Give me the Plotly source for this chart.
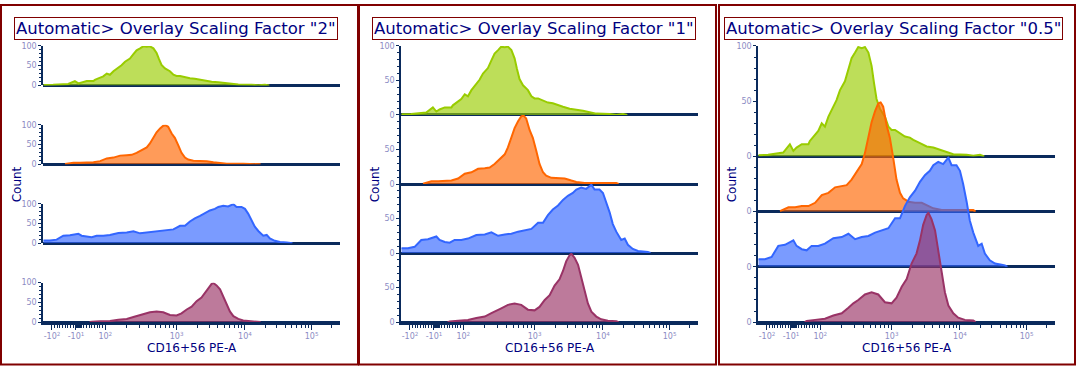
import math
import plotly.graph_objects as go

W, H = 1076, 371

# ---------------- data (display channel 0..1024, normalized count 0..100) ----------------
green_ch = [0, 20, 34, 86, 109, 121, 132, 150, 173, 178, 190, 207, 219, 230, 242, 253, 270, 282,
            299, 311, 322, 334, 345, 357, 368, 380, 391, 399, 408, 420, 437, 449, 460, 472, 489,
            506, 523, 535, 558, 581, 604, 627, 650, 673, 719, 742, 765, 780]
green_cnt = [1, 1, 1.5, 3.5, 11, 5, 8, 11, 11, 14, 18, 23, 30, 27, 36, 42, 51, 60,
             68, 79, 89, 94, 99, 98, 99, 94, 82, 67, 52, 43, 36, 27, 24, 24, 21,
             18, 17, 15, 12, 9, 8, 6, 4, 2, 1.5, 0.5, 1.5, 0]

orange_ch = [75, 104, 127, 150, 173, 196, 219, 242, 265, 288, 305, 322, 334, 357, 368, 380, 391,
             403, 414, 422, 431, 443, 454, 466, 477, 489, 500, 518, 541, 564, 587, 604, 633,
             690, 742, 750]
orange_cnt = [0.5, 4, 4, 5, 5, 8, 15, 17, 22, 23, 24, 29, 34, 43, 53, 67, 81,
              91, 98, 99, 95, 78, 67, 48, 29, 17, 12, 9, 8, 8, 5, 3, 1.4,
              1.4, 1.4, 0]

blue_ch = [0, 23, 46, 69, 92, 121, 132, 150, 167, 184, 207, 230, 259, 288, 311, 334, 357, 380,
           403, 426, 449, 472, 489, 506, 523, 541, 558, 575, 592, 604, 621, 638, 656, 667, 684,
           696, 707, 719, 730, 742, 759, 771, 782, 799, 817, 840, 851, 860]
blue_cnt = [7, 7, 9, 19, 20, 24, 19, 16, 15, 19, 19, 21, 26, 27, 30, 25, 27, 28,
            31, 33, 35, 44, 44, 55, 63, 69, 77, 83, 87, 92, 95, 93, 99, 92, 92,
            87, 75, 59, 42, 31, 19, 21, 12, 6, 3, 2, 1.4, 0]

purple_ch = [160, 167, 196, 230, 259, 288, 311, 328, 345, 368, 391, 414, 437, 460, 477, 495, 512,
             529, 546, 558, 569, 581, 587, 598, 610, 621, 633, 644, 656, 673, 690, 713, 742, 750]
purple_cnt = [0, 1, 2, 3, 6, 8, 13, 17, 20, 25, 27, 25, 18, 17, 22, 32, 39,
              53, 62, 74, 88, 97, 99, 93, 83, 65, 46, 27, 15, 8, 4, 2, 1.4, 0]

series_names = ["NK (green)", "NK (orange)", "NK (blue)", "NK (purple)"]
line_colors = ["#99CC00", "#FF6600", "#3366FF", "#993366"]
fill_colors = ["rgba(153,204,0,0.65)", "rgba(255,102,0,0.65)",
               "rgba(51,102,255,0.65)", "rgba(153,51,102,0.65)"]

scaling_factors = ["2", "1", "0.5"]
x_tick_values = [-100, -10, 100, 1000, 10000, 100000]
x_tick_text = ["-10<sup>2</sup>", "-10<sup>1</sup>", "10<sup>2</sup>",
               "10<sup>3</sup>", "10<sup>4</sup>", "10<sup>5</sup>"]
x_title = "CD16+56 PE-A"
y_title = "Count"

series_x = [green_ch, orange_ch, blue_ch, purple_ch]
series_y = [green_cnt, orange_cnt, blue_cnt, purple_cnt]


# ---------------- display transform (biexponential-like) ----------------
def to_ch(v):
    if abs(v) <= 100:
        return 122 + v * 0.92
    if v > 0:
        lg = math.log10(v)
        pts = [(2, 214), (3, 460), (4, 696), (5, 926), (6, 1156)]
        for (a, ca), (b, cb) in zip(pts[:-1], pts[1:]):
            if a <= lg <= b:
                return ca + (lg - a) / (b - a) * (cb - ca)
    return 30 + (math.log10(-v) - 2) * -240


minor_vals = []
minor_vals += [-m for m in range(20, 100, 10)]
minor_vals += [-m for m in range(1, 10)] + [0] + list(range(1, 10))
minor_vals += list(range(20, 100, 10))
for dec in [100, 1000, 10000]:
    minor_vals += [m * dec for m in range(2, 10)]
minor_vals += [200000]
minor_ch = [to_ch(v) for v in minor_vals]
major_ch = [to_ch(v) for v in x_tick_values]

NAVY = "#0A2A5C"
DARKRED = "#800000"
TICKC = "#8C8CC4"

# ---------------- layout geometry (pixels) ----------------
panel_left = [0, 358, 718]
axis_x0 = [43.3, 401.3, 758.3]
axis_w = 296.7
top_px, bottom_px = 43.0, 326.0
total = bottom_px - top_px
factors = [2.0, 1.0, 0.5]

fig = go.Figure()
layout = dict(
    width=W, height=H, margin=dict(l=0, r=0, t=0, b=0), autosize=False,
    paper_bgcolor="white", plot_bgcolor="rgba(0,0,0,0)",
    showlegend=False, annotations=[], shapes=[],
)

for p in range(3):
    f = factors[p]
    # band height h and spacing s with s = f*h and 3s + h = total
    h = total / (3 * f + 1)
    s = f * h
    xname = "x" if p == 0 else f"x{p + 1}"
    xkey = "xaxis" if p == 0 else f"xaxis{p + 1}"
    for k in range(4):
        idx = p * 4 + k + 1
        yname = "y" if idx == 1 else f"y{idx}"
        ykey = "yaxis" if idx == 1 else f"yaxis{idx}"
        base = bottom_px - (3 - k) * s
        top = base - h
        if p == 0 or k == 0:
            tv = [0, 50, 100]
        elif p == 1:
            tv = [0, 50]
        else:
            tv = [0]
        layout[ykey] = dict(
            domain=[1 - base / H, 1 - top / H], range=[0, 100], anchor=xname,
            showline=True, linecolor=NAVY, linewidth=2,
            zeroline=True, zerolinecolor=NAVY, zerolinewidth=2.5,
            showgrid=False, ticks="outside", tickmode="array", tickvals=tv,
            ticklen=3, tickwidth=1, tickcolor=NAVY,
            tickfont=dict(family="DejaVu Sans", size=8, color=TICKC),
            minor=dict(ticks="outside", tickmode="array",
                       tickvals=[10, 20, 30, 40, 60, 70, 80, 90],
                       ticklen=2, tickwidth=1, tickcolor=NAVY),
            fixedrange=True,
        )
        fig.add_trace(go.Scatter(
            x=series_x[k], y=series_y[k], xaxis=xname, yaxis=yname,
            mode="lines", line=dict(color=line_colors[k], width=2, shape="linear"),
            fill="tozeroy", fillcolor=fill_colors[k], name=series_names[k],
            hoverinfo="skip",
        ))
    bottom_y = f"y{p * 4 + 4}"
    layout[xkey] = dict(
        domain=[axis_x0[p] / W, (axis_x0[p] + axis_w) / W], range=[0, 1024],
        anchor=bottom_y, showline=True, linecolor=NAVY, linewidth=2.5,
        showgrid=False, zeroline=False, ticks="outside", tickmode="array",
        tickvals=major_ch, ticktext=x_tick_text, ticklen=5, tickwidth=1, tickcolor=NAVY,
        tickfont=dict(family="DejaVu Sans", size=8, color=TICKC),
        minor=dict(ticks="outside", tickmode="array", tickvals=minor_ch,
                   ticklen=3, tickwidth=1, tickcolor=NAVY),
        title=dict(text=x_title, font=dict(family="DejaVu Sans", size=12, color="#000080"),
                   standoff=2),
        fixedrange=True,
    )
    # y title
    layout["annotations"].append(dict(
        text=y_title, x=(axis_x0[p] - 26) / W, y=1 - (top_px + bottom_px) / 2 / H,
        xref="paper", yref="paper", showarrow=False, textangle=-90,
        font=dict(family="DejaVu Sans", size=12, color="#000080"),
        xanchor="center", yanchor="middle",
    ))
    # boxed title
    pw = (358 if p < 2 else 357)
    layout["annotations"].append(dict(
        text=f'Automatic> Overlay Scaling Factor "{scaling_factors[p]}"',
        x=(panel_left[p] + pw / 2 - 3) / W, y=1 - 25.5 / H,
        xref="paper", yref="paper", showarrow=False,
        xanchor="center", yanchor="middle",
        font=dict(family="DejaVu Sans", size=16.5, color="#000080"),
        bordercolor=DARKRED, borderwidth=1, borderpad=1, bgcolor="white",
    ))
    # panel border
    x0 = panel_left[p] + 1
    x1 = panel_left[p] + pw
    layout["shapes"].append(dict(
        type="rect", xref="paper", yref="paper",
        x0=x0 / W, x1=x1 / W, y0=1 - 369.5 / H, y1=1 - 1 / H,
        line=dict(color=DARKRED, width=2), layer="above",
    ))

fig.update_layout(**layout)
post = (
    "document.body.style.margin='0';document.body.style.overflow='hidden';"
    "var d=document.getElementById('{plot_id}');"
    "d.style.position='fixed';d.style.top='0px';d.style.left='0px';"
)
fig.write_html("out.html", config={"displayModeBar": False}, post_script=post)
